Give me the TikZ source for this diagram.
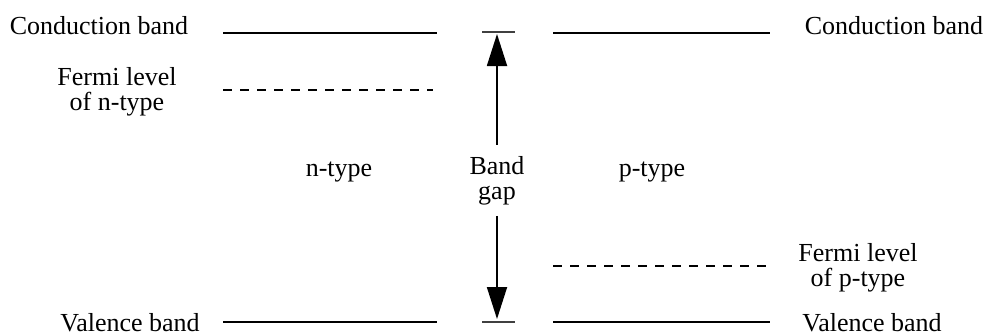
\documentclass[tikz,border=0pt]{standalone}
\usepackage{fontspec}
\setmainfont{Liberation Serif}
\usetikzlibrary{arrows.meta}
\begin{document}
\begin{tikzpicture}[x=1pt,y=-1pt,
  lbl/.style={font=\fontsize{26}{25}\selectfont, inner sep=0pt, align=center, anchor=base},
  band/.style={line width=1.5pt, black},
  fermi/.style={line width=2pt, black, dash pattern=on 9pt off 8pt},
  tick/.style={line width=1.2pt, black!75},
  gaparrow/.style={line width=1.8pt, -{Triangle[width=20pt,length=32pt]}}
]
\useasboundingbox (0,0) rectangle (993,335);
% labels
\node[lbl] (cbl) at (99,34) {Conduction band};
\node[lbl] (cbr) at (894,34) {Conduction band};
\node[lbl] (fnl) at (117,110) {Fermi level\\of n-type};
\node[lbl] (fpl) at (858,286) {Fermi level\\of p-type};
\node[lbl] (vbl) at (130,331) {Valence band};
\node[lbl] (vbr) at (872,331) {Valence band};
\node[lbl] (nt) at (339,176) {n-type};
\node[lbl] (pt) at (652,176) {p-type};
\node[lbl, inner ysep=11pt] (bg) at (497,199) {Band\\gap};
% level lines
\coordinate (cl1) at (223,33); \coordinate (cl2) at (437,33);
\coordinate (cr1) at (553,33); \coordinate (cr2) at (770,33);
\coordinate (vl1) at (223,322); \coordinate (vl2) at (437,322);
\coordinate (vr1) at (553,322); \coordinate (vr2) at (770,322);
\coordinate (fn1) at (223,90); \coordinate (fn2) at (433,90);
\coordinate (fp1) at (553,266); \coordinate (fp2) at (768,266);
\draw[band] (cl1) -- (cl2);
\draw[band] (cr1) -- (cr2);
\draw[band] (vl1) -- (vl2);
\draw[band] (vr1) -- (vr2);
\draw[fermi] (fn1) -- (fn2);
\draw[fermi] (fp1) -- (fp2);
% ticks
\coordinate (tt1) at (482,32); \coordinate (tt2) at (515,32);
\coordinate (bt1) at (482,322); \coordinate (bt2) at (515,322);
\draw[tick] (tt1) -- (tt2);
\draw[tick] (bt1) -- (bt2);
% arrows
\coordinate (atop) at (497,34);
\coordinate (abot) at (497,319);
\draw[gaparrow] (bg.north) -- (atop);
\draw[gaparrow] (bg.south) -- (abot);
\end{tikzpicture}
\end{document}
